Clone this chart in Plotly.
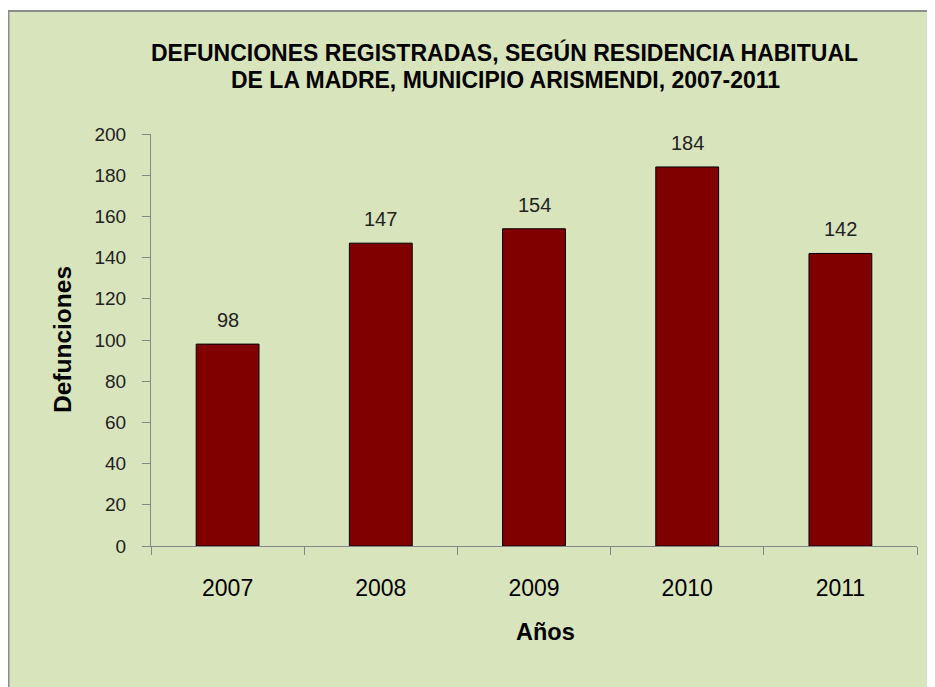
import plotly.graph_objects as go

years = ["2007", "2008", "2009", "2010", "2011"]
deaths = [98, 147, 154, 184, 142]
y_ticks = [0, 20, 40, 60, 80, 100, 120, 140, 160, 180, 200]

BG = "#D8E4BC"
FONT = "Liberation Sans, Arial, sans-serif"

# the page body adds an 8px offset; figure coords = screen coords - 8
OFF = 8
W, H = 935 - OFF, 687 - OFF
AX_L, AX_R, AX_T, AX_B = 151, 917, 134, 546  # screen pixels of the plot area
L = AX_L - OFF
R = W - (AX_R - OFF)
T = AX_T - OFF
B = H - (AX_B - OFF)
pw, ph = W - L - R, H - T - B

def sx(p):
    """screen x pixel -> paper x"""
    return (p - OFF - L) / pw

def sy(p):
    """screen y pixel -> paper y"""
    return (H - B - (p - OFF)) / ph

fig = go.Figure()
fig.add_trace(go.Bar(
    x=years, y=deaths,
    marker=dict(color="#800000", line=dict(color="#000000", width=1)),
    hoverinfo="skip",
))

# value labels (category index positions on the category axis)
for i, v in enumerate(deaths):
    fig.add_annotation(x=i, y=v, text=str(v), showarrow=False, yshift=24,
                       xanchor="center", yanchor="middle",
                       font=dict(family=FONT, size=20, color="#222222"))

# frame
fig.add_shape(type="rect", xref="paper", yref="paper",
              x0=sx(8.5), x1=sx(960), y0=sy(11), y1=sy(720),
              fillcolor=BG, line=dict(color="#8C8C8C", width=2), layer="below")

# title (two lines)
fig.add_annotation(xref="paper", yref="paper", x=sx(504), y=sy(53),
                   xanchor="center", yanchor="middle", showarrow=False,
                   text="<b>DEFUNCIONES REGISTRADAS, SEGÚN RESIDENCIA HABITUAL</b>",
                   font=dict(family=FONT, size=23, color="#000000"))
fig.add_annotation(xref="paper", yref="paper", x=sx(505), y=sy(80),
                   xanchor="center", yanchor="middle", showarrow=False,
                   text="<b>DE LA MADRE, MUNICIPIO ARISMENDI, 2007-2011</b>",
                   font=dict(family=FONT, size=23, color="#000000"))

fig.add_annotation(xref="paper", yref="paper", x=sx(62), y=sy(340),
                   xanchor="center", yanchor="middle",
                   text="<b>Defunciones</b>", textangle=-90, showarrow=False,
                   font=dict(family=FONT, size=24.5, color="#000000"))
fig.add_annotation(xref="paper", yref="paper", x=sx(545), y=sy(632),
                   xanchor="center", yanchor="middle",
                   text="<b>Años</b>", showarrow=False,
                   font=dict(family=FONT, size=23.5, color="#000000"))

fig.update_layout(
    width=W, height=H,
    margin=dict(l=L, r=R, t=T, b=B, autoexpand=False),
    paper_bgcolor="white",
    plot_bgcolor="rgba(0,0,0,0)",
    showlegend=False,
    bargap=0.59,
    xaxis=dict(
        type="category", automargin=False, range=[-0.5, len(years) - 0.5],
        showline=True, linecolor="#868686", linewidth=1,
        ticks="outside", tickson="boundaries", ticklen=8, tickcolor="#868686",
        tickfont=dict(family=FONT, size=23, color="#000000"),
        ticklabelstandoff=21, tickangle=0,
        showgrid=False, zeroline=False,
    ),
    yaxis=dict(
        range=[0, 200], tickvals=y_ticks, automargin=False,
        showline=True, linecolor="#868686", linewidth=1,
        ticks="outside", ticklen=8, tickcolor="#868686",
        tickfont=dict(family=FONT, size=19, color="#222222"),
        ticklabelstandoff=12,
        showgrid=False, zeroline=False,
    ),
)

fig.write_html("out.html")
